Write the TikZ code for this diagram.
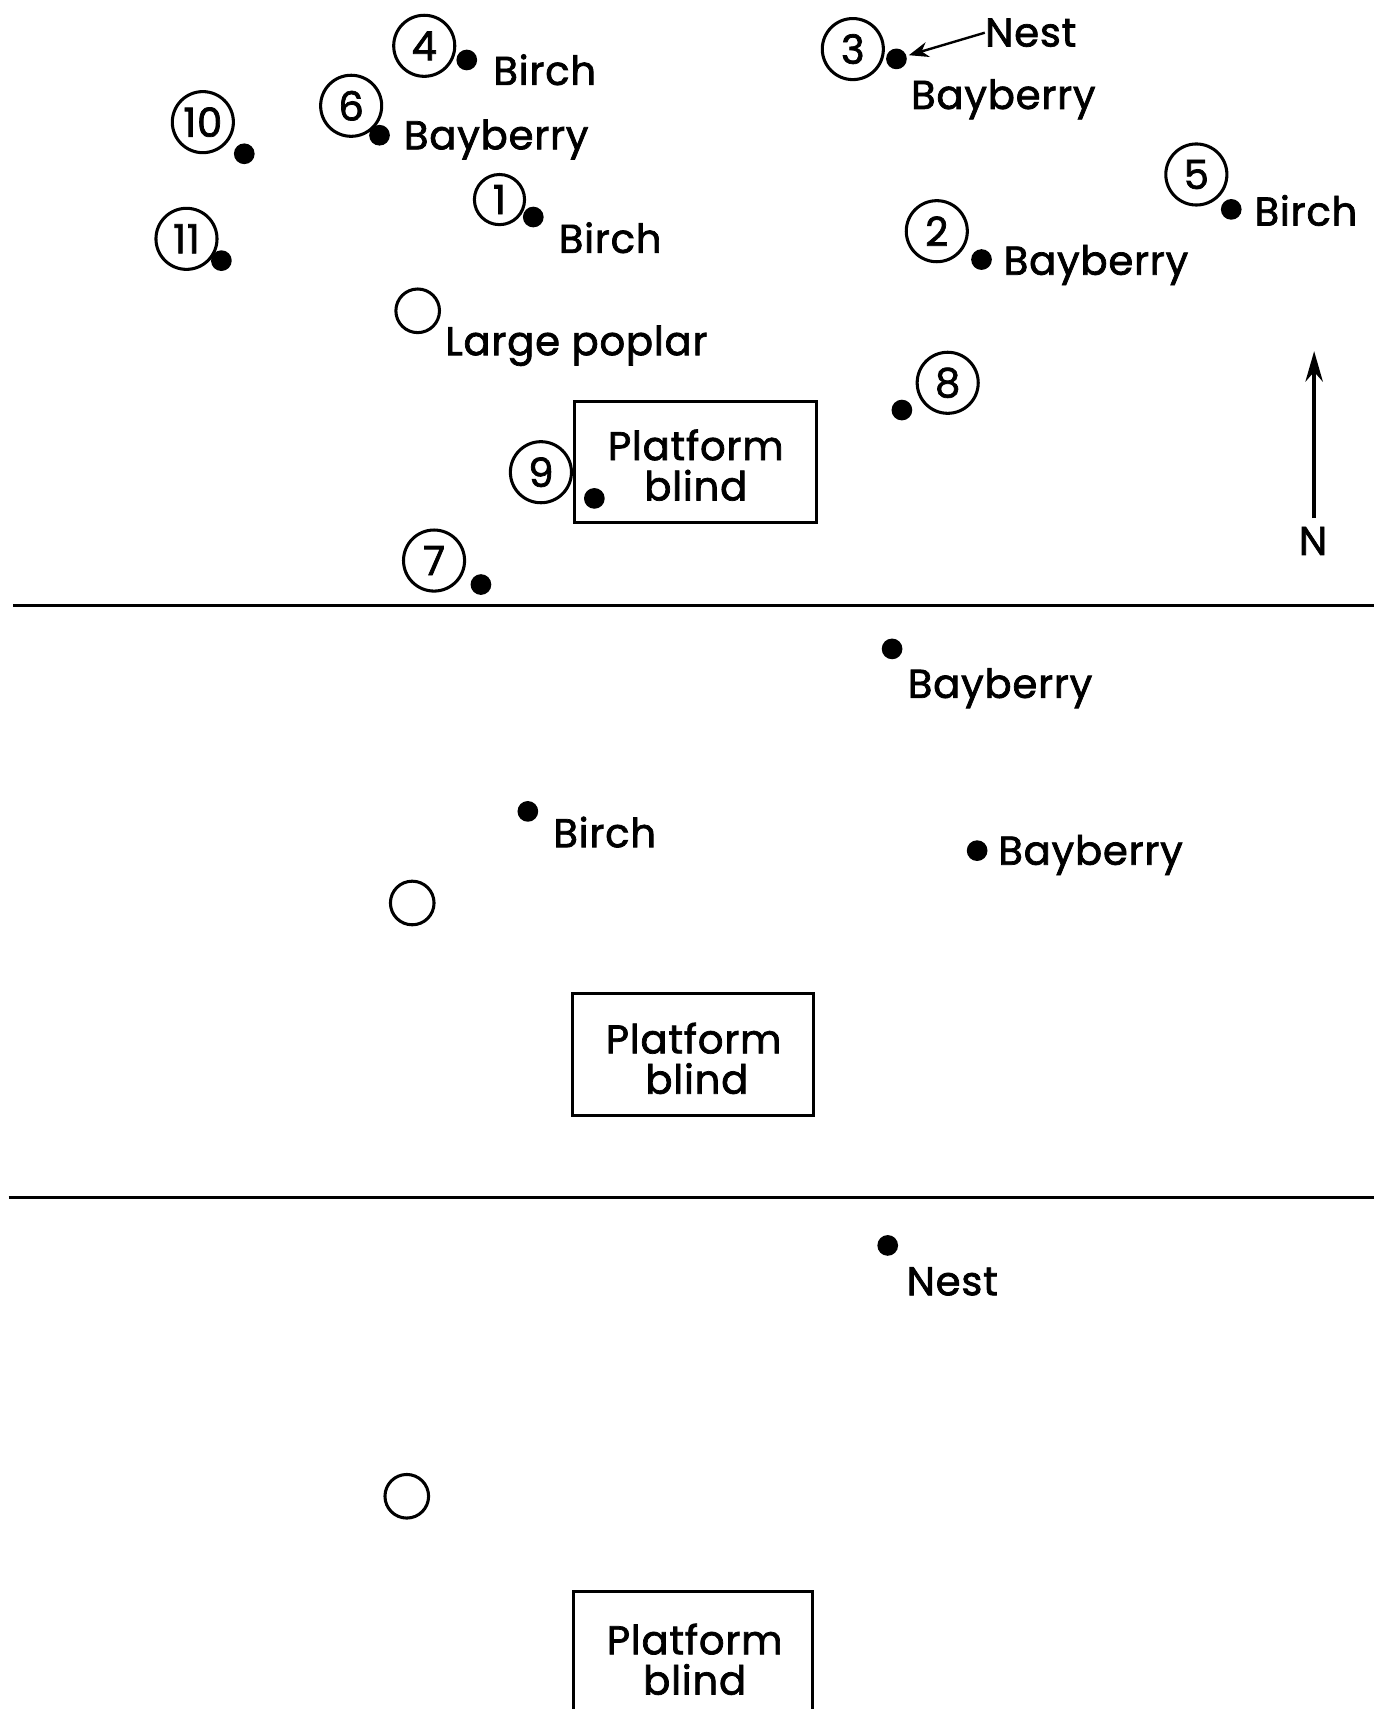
\documentclass[tikz,border=0pt]{standalone}
\usepackage{fontspec}
\setmainfont{Poppins}[LetterSpace=2,FakeBold=1.8]
\usetikzlibrary{arrows.meta}
\tikzset{
  numc/.style={circle,draw,line width=1.4pt,minimum size=28pt,inner sep=0pt,font=\fontsize{18.4}{18.4}\selectfont},
  smallc/.style={numc,minimum size=23pt},
  dot/.style={circle,fill=black,minimum size=9.5pt,inner sep=0pt},
  tree/.style={circle,draw,line width=1.4pt,minimum size=20pt,inner sep=0pt},
  lab/.style={anchor=west,inner sep=0pt,font=\fontsize{18.4}{18.4}\selectfont},
  blindbox/.style={draw,line width=1.3pt},
  blindtxt/.style={inner sep=0pt,font=\fontsize{18.4}{18.4}\selectfont},
  divider/.style={line width=1.6pt}
}
\begin{document}
\begin{tikzpicture}[x=0.5pt,y=-0.5pt]
\useasboundingbox (0,0) rectangle (1270,1568);
\fill[white] (0,0) rectangle (1270,1568);
% ---- section 1 ----
\node[numc] (c4) at (389,42) {4};
\node[dot] (d4) at (428,55) {};
\node[lab] (l4) at (452,64) {Birch};
\node[numc] (c6) at (322,97) {6};
\node[dot] (d6) at (348,124) {};
\node[lab] (l6) at (370,128) {Bayberry};
\node[numc] (c10) at (186,112) {10};
\node[dot] (d10) at (224,141) {};
\node[smallc] (c1) at (458,183) {1};
\node[dot] (d1) at (489,199) {};
\node[lab] (l1) at (512,218) {Birch};
\node[numc] (c11) at (171,219) {11};
\node[dot] (d11) at (203,239) {};
\node[tree] (p1) at (383,285) {};
\node[lab] (lp) at (408,317) {Large poplar};
\node[numc] (c3) at (782,45) {3};
\node[dot] (d3) at (822,54) {};
\node[lab] (nest1) at (903,30) {Nest};
\node[lab] (l3) at (835,91) {Bayberry};
\draw[line width=1.1pt,-{Stealth[length=9pt,width=7pt]},shorten >=1pt] (nest1.west) -- (d3);
\node[numc] (c5) at (1097,160) {5};
\node[dot] (d5) at (1129,192) {};
\node[lab] (l5) at (1150,193) {Birch};
\node[numc] (c2) at (859,212) {2};
\node[dot] (d2) at (900,238) {};
\node[lab] (l2) at (920,243) {Bayberry};
\node[numc] (c8) at (869,351) {8};
\node[dot] (d8) at (827,376) {};
\node[blindbox,minimum width=111pt,minimum height=55.5pt] (b1) at (638,423.5) {};
\node[blindtxt] (b1a) at (638,408) {Platform};
\node[blindtxt] (b1b) at (638,445) {blind};
\node[numc] (c9) at (496,433) {9};
\node[dot] (d9) at (545,457) {};
\node[numc] (c7) at (398,514) {7};
\node[dot] (d7) at (441,536) {};
\coordinate (ntail) at (1205,475);
\coordinate (nhead) at (1205,322);
\draw[line width=1.6pt,-{Stealth[length=14pt,width=8pt]}] (ntail) -- (nhead);
\node[blindtxt] (nlab) at (1204,496) {N};
\coordinate (h1a) at (12,555);
\coordinate (h1b) at (1260,555);
\draw[divider] (h1a) -- (h1b);
% ---- section 2 ----
\node[dot] (e1) at (818,595) {};
\node[lab] (m1) at (832,631) {Bayberry};
\node[dot] (e2) at (484,744) {};
\node[lab] (m2) at (507,763) {Birch};
\node[dot] (e3) at (896,780) {};
\node[lab] (m3) at (915,784) {Bayberry};
\node[tree] (p2) at (378,828) {};
\node[blindbox,minimum width=110.5pt,minimum height=56pt] (b2) at (635.5,967) {};
\node[blindtxt] (b2a) at (636,952) {Platform};
\node[blindtxt] (b2b) at (639,989) {blind};
\coordinate (h2a) at (8,1098);
\coordinate (h2b) at (1260,1098);
\draw[divider] (h2a) -- (h2b);
% ---- section 3 ----
\node[dot] (f1) at (814,1142) {};
\node[lab] (n1) at (831,1175) {Nest};
\node[tree] (p3) at (373,1372) {};
\draw[blindbox] (526,1567) -- (526,1459) -- (745,1459) -- (745,1567);
\node[blindtxt] (b3a) at (637,1503) {Platform};
\node[blindtxt] (b3b) at (637,1540) {blind};
\end{tikzpicture}
\end{document}
